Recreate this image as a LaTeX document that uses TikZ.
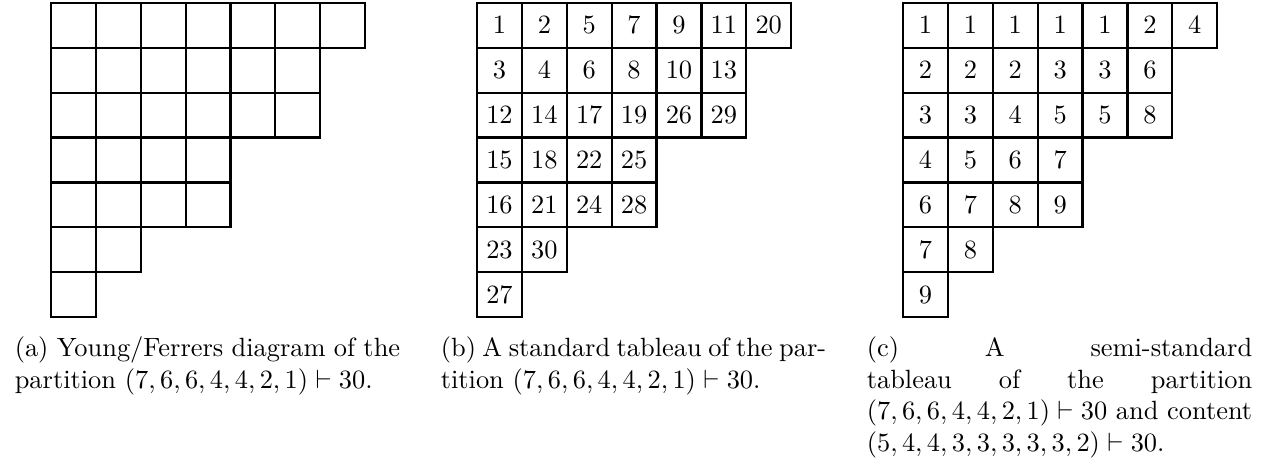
\documentclass[tikz,border=0pt]{standalone}
\begin{document}
\begin{tikzpicture}[
  cell/.style={draw, line width=0.85pt, minimum size=17pt, inner sep=0pt, anchor=north west},
  capbox/.style={text width=146pt, align=justify, inner sep=0pt, anchor=north west}
]
\useasboundingbox (0,0) rectangle (480pt,174.2pt);
% (a) Young diagram
\foreach \n [count=\r] in {7,6,6,4,4,2,1} {
  \foreach \c in {1,...,\n} {
    \node[cell] (a-\r-\c) at ({18.9pt+(\c-1)*17pt},{173.5pt-(\r-1)*17pt}) {};
  }
}
% (b) standard tableau
\foreach \row [count=\r] in {{1,2,5,7,9,11,20},{3,4,6,8,10,13},{12,14,17,19,26,29},{15,18,22,25},{16,21,24,28},{23,30},{27}} {
  \foreach \v [count=\c] in \row {
    \node[cell] (b-\r-\c) at ({180.3pt+(\c-1)*17pt},{173.5pt-(\r-1)*17pt}) {$\v$};
  }
}
% (c) semi-standard tableau
\foreach \row [count=\r] in {{1,1,1,1,1,2,4},{2,2,2,3,3,6},{3,3,4,5,5,8},{4,5,6,7},{6,7,8,9},{7,8},{9}} {
  \foreach \v [count=\c] in \row {
    \node[cell] (c-\r-\c) at ({341.7pt+(\c-1)*17pt},{173.5pt-(\r-1)*17pt}) {$\v$};
  }
}
% captions
\node[capbox] (capa) at (5.4pt,46.9pt) {(a) Young/Ferrers diagram of the\linebreak partition $(7,6,6,4,4,2,1)\vdash 30$.};
\node[capbox] (capb) at (166.8pt,46.9pt) {(b) A standard tableau of the par-\linebreak tition $(7,6,6,4,4,2,1)\vdash 30$.};
\node[capbox] (capc) at (328.2pt,46.9pt) {(c) A semi-standard\linebreak tableau of the partition\linebreak $(7,6,6,4,4,2,1)\vdash 30$ and content\linebreak $(5,4,4,3,3,3,3,3,2)\vdash 30$.};
\end{tikzpicture}
\end{document}
